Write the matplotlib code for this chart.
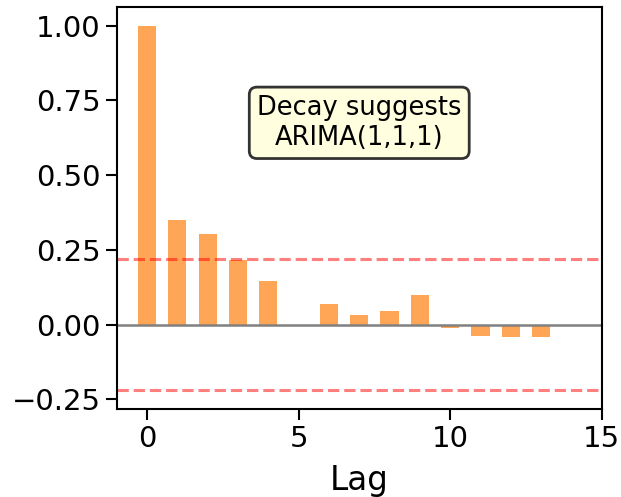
import numpy as np
import matplotlib
matplotlib.use('Agg')
import matplotlib.pyplot as plt

lags = np.arange(14)
acf = [1.0, 0.35, 0.303, 0.217, 0.147, 0.0, 0.07, 0.033, 0.047, 0.10,
       -0.012, -0.037, -0.043, -0.04]
conf = 0.22

fig = plt.figure(figsize=(6.21, 4.97), dpi=100)
ax = fig.add_axes([0.188, 0.178, 0.781, 0.807])

ax.bar(lags, acf, width=0.6, color='C1', alpha=0.7)
ax.axhline(0, color='gray', linewidth=1.8)
ax.axhline(conf, color='red', linestyle='--', linewidth=2.2, alpha=0.5)
ax.axhline(-conf, color='red', linestyle='--', linewidth=2.2, alpha=0.5)

ax.text(7, 0.675, 'Decay suggests\nARIMA(1,1,1)', ha='center', va='center',
        fontsize=18.5,
        bbox=dict(boxstyle='round', facecolor='lightyellow', edgecolor='#333333',
                  linewidth=2))

ax.set_xlim(-1, 15)
ax.set_xticks([0, 5, 10, 15])
ax.set_yticks([-0.25, 0, 0.25, 0.5, 0.75, 1.0])
ax.set_xlabel('Lag', fontsize=23.5, labelpad=8)
ax.tick_params(labelsize=21, length=8, width=1.5)
for s in ax.spines.values():
    s.set_linewidth(1.5)

fig.savefig('out.png', dpi=100)
